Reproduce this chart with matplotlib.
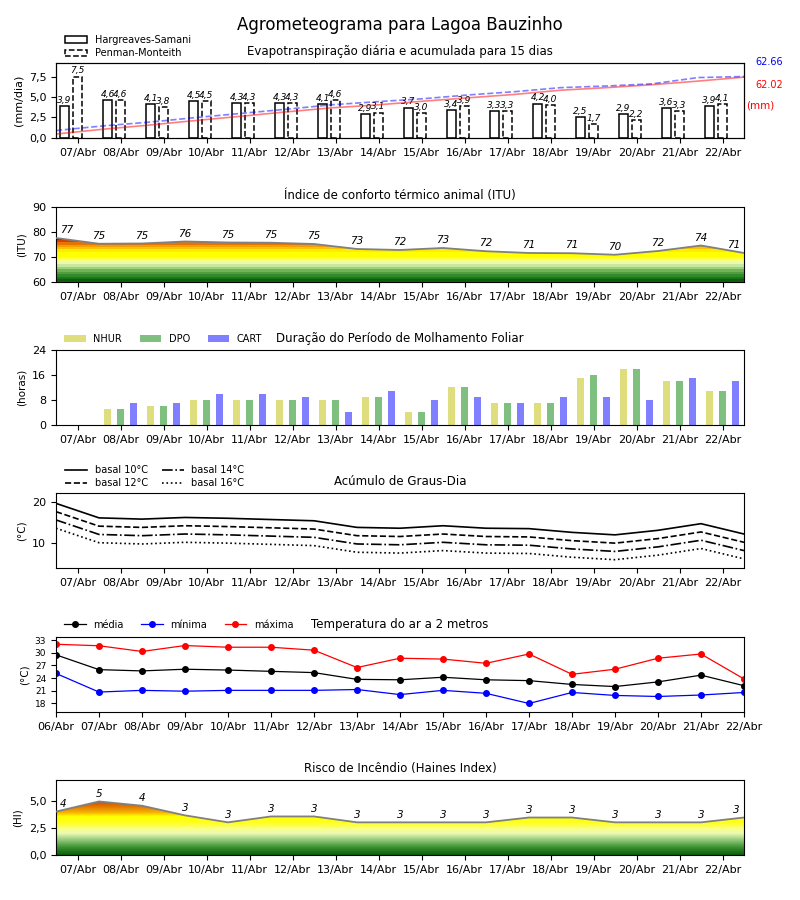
import numpy as np
import matplotlib
matplotlib.use('Agg')
import matplotlib.pyplot as plt
from matplotlib.colors import LinearSegmentedColormap
from matplotlib.patches import Polygon

# ---------------- data ----------------
days = ['07/Abr', '08/Abr', '09/Abr', '10/Abr', '11/Abr', '12/Abr', '13/Abr', '14/Abr',
        '15/Abr', '16/Abr', '17/Abr', '18/Abr', '19/Abr', '20/Abr', '21/Abr', '22/Abr']
temp_days = ['06/Abr'] + days

eto_hs = [3.9, 4.6, 4.1, 4.5, 4.3, 4.3, 4.1, 2.9, 3.7, 3.4, 3.3, 4.2, 2.5, 2.9, 3.6, 3.9]
eto_pm = [7.5, 4.6, 3.8, 4.5, 4.3, 4.3, 4.6, 3.1, 3.0, 3.9, 3.3, 4.0, 1.7, 2.2, 3.3, 4.1]
cum_hs = [4.0, 8.8, 13.0, 17.6, 22.0, 26.5, 30.7, 33.7, 37.5, 41.0, 44.4, 48.7, 51.3, 54.3, 58.0, 62.02]
cum_pm = [7.6, 12.2, 16.0, 20.6, 24.9, 29.2, 33.8, 37.0, 40.0, 43.9, 47.2, 51.3, 53.0, 55.2, 61.6, 62.66]

itu = [77.6, 75.3, 75.4, 76.2, 75.8, 75.7, 75.2, 73.2, 72.8, 73.6, 72.3, 71.6, 71.5, 70.9, 72.4, 74.6, 71.6]

nhur = [0, 5, 6, 8, 8, 8, 8, 9, 4, 12, 7, 7, 15, 18, 14, 11]
dpo = [0, 5, 6, 8, 8, 8, 8, 9, 4, 12, 7, 7, 16, 18, 14, 11]
cart = [0, 7, 7, 10, 10, 9, 4, 11, 8, 9, 7, 9, 9, 8, 15, 14]

gdd10 = [19.6, 16.1, 15.8, 16.2, 16.0, 15.7, 15.4, 13.8, 13.6, 14.2, 13.6, 13.5, 12.6, 12.0, 13.1, 14.7, 12.2]
gdd12 = [17.6, 14.1, 13.8, 14.2, 14.0, 13.7, 13.4, 11.8, 11.6, 12.2, 11.6, 11.5, 10.6, 10.0, 11.1, 12.7, 10.2]
gdd14 = [15.6, 12.1, 11.8, 12.2, 12.0, 11.7, 11.4, 9.8, 9.6, 10.2, 9.6, 9.5, 8.6, 8.0, 9.1, 10.7, 8.2]
gdd16 = [13.6, 10.1, 9.8, 10.2, 10.0, 9.7, 9.4, 7.8, 7.6, 8.2, 7.6, 7.5, 6.6, 6.0, 7.1, 8.7, 6.2]

t_mean = [29.5, 26.0, 25.7, 26.1, 25.9, 25.6, 25.3, 23.7, 23.6, 24.2, 23.6, 23.4, 22.5, 22.0, 23.1, 24.7, 22.2]
t_min = [25.1, 20.7, 21.1, 20.9, 21.1, 21.1, 21.1, 21.3, 20.1, 21.1, 20.4, 18.0, 20.6, 19.9, 19.65, 20.0, 20.6]
t_max = [32.0, 31.65, 30.3, 31.7, 31.3, 31.3, 30.6, 26.5, 28.7, 28.5, 27.5, 29.7, 24.9, 26.1, 28.7, 29.7, 23.8]

haines = [4.05, 5.0, 4.6, 3.7, 3.05, 3.6, 3.6, 3.05, 3.05, 3.05, 3.05, 3.5, 3.5, 3.05, 3.05, 3.05, 3.5]

# ---------------- style ----------------
TITLE_FS = 8.5
TICK_FS = 8
LEG_FS = 7
LAB_FS = 7.5

fig = plt.figure(figsize=(8, 9), dpi=100)
fig.suptitle('Agrometeograma para Lagoa Bauzinho', fontsize=12, y=0.982)

L, W = 0.07, 0.86
H = 0.0833
bottoms = [0.8467, 0.6867, 0.5278, 0.3689, 0.2085, 0.05]
axes = [fig.add_axes([L, b, W, h]) for b, h in zip(bottoms, [H, H, H, H, 0.0841, H])]

n = len(days)
xd = np.arange(n)
xb = np.arange(n + 1) - 0.5


def style_days(ax):
    ax.set_xlim(-0.5, n - 0.5)
    ax.set_xticks(xd)
    ax.set_xticklabels(days, fontsize=TICK_FS)
    ax.tick_params(axis='y', labelsize=TICK_FS)


def gradient_fill(ax, x, y, ymin, ymax, anchors, N=256):
    pos = [(v - ymin) / (ymax - ymin) for v, _ in anchors]
    cols = [c for _, c in anchors]
    cmap = LinearSegmentedColormap.from_list('g', list(zip(pos, cols)), N=N)
    grad = np.linspace(0, 1, 512).reshape(-1, 1)
    im = ax.imshow(grad, extent=[x[0], x[-1], ymin, ymax], origin='lower',
                   aspect='auto', cmap=cmap, zorder=1, interpolation='nearest')
    verts = [(x[0], ymin)] + list(zip(x, y)) + [(x[-1], ymin)]
    poly = Polygon(verts, closed=True, facecolor='none', edgecolor='none')
    ax.add_patch(poly)
    im.set_clip_path(poly)
    ax.plot(x, y, color='#808080', lw=1.3, zorder=3)


def point_labels(ax, x, y, fmt):
    for i, (xi, yi) in enumerate(zip(x, y)):
        if i == 0:
            ha, dx = 'left', 3
        elif i == len(x) - 1:
            ha, dx = 'right', -3
        else:
            ha, dx = 'center', 0
        ax.annotate(fmt(yi), (xi, yi), xytext=(dx, 2), textcoords='offset points',
                    ha=ha, va='bottom', fontsize=7.5, style='italic', zorder=4)


# ---------------- panel 1: ETo ----------------
ax = axes[0]
bw = 0.22
ax.bar(xd - 0.3, eto_hs, bw, facecolor='white', edgecolor='black', lw=1.1,
       label='Hargreaves-Samani', zorder=2)
ax.bar(xd, eto_pm, bw, facecolor='white', edgecolor='black', lw=1.1, linestyle='--',
       label='Penman-Monteith', zorder=2)
for xi, v in zip(xd - 0.3, eto_hs):
    ax.text(xi, v + 0.15, f'{v:.1f}'.replace('.', ','), ha='center', va='bottom',
            fontsize=6.5, style='italic')
for xi, v in zip(xd, eto_pm):
    ax.text(xi, v + 0.15, f'{v:.1f}'.replace('.', ','), ha='center', va='bottom',
            fontsize=6.5, style='italic')
style_days(ax)
ax.set_ylim(0, max(eto_pm) * 1.22)
ax.set_yticks([0, 2.5, 5.0, 7.5])
ax.set_yticklabels(['0,0', '2,5', '5,0', '7,5'])
ax.set_ylabel('(mm/dia)', fontsize=LAB_FS + 0.5)
ax.set_title('Evapotranspiração diária e acumulada para 15 dias', fontsize=TITLE_FS)
ax.legend(loc='lower left', bbox_to_anchor=(0.008, 1.01), frameon=False, fontsize=LEG_FS,
          handlelength=2.2, borderaxespad=0, labelspacing=0.35)
axb = ax.twinx()
xc = np.linspace(-0.5, n - 0.5, len(cum_hs))
axb.plot(xc, cum_hs, color='red', alpha=0.5, lw=1.2)
axb.plot(xc, cum_pm, color='blue', alpha=0.5, lw=1.2, linestyle='--')
axb.set_ylim(0, max(cum_pm) * 1.22)
axb.set_yticks([])
axb.set_xlim(-0.5, n - 0.5)
axb.text(1.017, 1.009, f'{cum_pm[-1]:.2f}', transform=ax.transAxes, color='blue',
         fontsize=7, ha='left', va='center')
axb.text(1.017, 0.703, f'{cum_hs[-1]:.2f}', transform=ax.transAxes, color='red',
         fontsize=7, ha='left', va='center')
axb.text(1.003, 0.436, '(mm)', transform=ax.transAxes, color='red',
         fontsize=7.5, ha='left', va='center')

# ---------------- panel 2: ITU ----------------
ax = axes[1]
itu_anchors = [(60, '#0b5e0b'), (62, '#2f8a2a'), (64, '#6cb04e'), (65.5, '#a9d98f'),
               (67, '#e9f9b2'), (68.5, '#f9ff7d'), (70, '#ffff00'), (72, '#ffff00'),
               (73, '#ffd200'), (74.5, '#f1a000'), (76, '#e16200'), (77.5, '#d00000'),
               (90, '#c00000')]
gradient_fill(ax, xb, itu, 60, 90, itu_anchors, N=30)
point_labels(ax, xb, itu, lambda v: f'{int(v)}')
style_days(ax)
ax.set_ylim(60, 90)
ax.set_yticks([60, 70, 80, 90])
ax.set_ylabel('(ITU)', fontsize=LAB_FS)
ax.set_title('Índice de conforto térmico animal (ITU)', fontsize=TITLE_FS)

# ---------------- panel 3: leaf wetness ----------------
ax = axes[2]
ww = 0.16
ax.bar(xd - 0.3, nhur, ww, color='y', alpha=0.5, label='NHUR')
ax.bar(xd, dpo, ww, color='green', alpha=0.5, label='DPO')
ax.bar(xd + 0.3, cart, ww, color='blue', alpha=0.5, label='CART')
style_days(ax)
ax.set_ylim(0, 24)
ax.set_yticks([0, 8, 16, 24])
ax.set_ylabel('(horas)', fontsize=LAB_FS)
ax.set_title('Duração do Período de Molhamento Foliar', fontsize=TITLE_FS)
ax.legend(loc='lower left', bbox_to_anchor=(0.005, 1.015), frameon=False, fontsize=LEG_FS,
          ncol=3, handlelength=2.2, borderaxespad=0.1, columnspacing=1.8)

# ---------------- panel 4: degree days ----------------
ax = axes[3]
ax.plot(xb, gdd10, color='black', lw=1.2, linestyle='-', label='basal 10°C')
ax.plot(xb, gdd12, color='black', lw=1.2, linestyle='--', label='basal 12°C')
ax.plot(xb, gdd14, color='black', lw=1.2, linestyle='-.', label='basal 14°C')
ax.plot(xb, gdd16, color='black', lw=1.2, linestyle=':', label='basal 16°C')
style_days(ax)
ax.set_ylim(4.0, 22.1)
ax.set_yticks([10, 20])
ax.set_ylabel('(°C)', fontsize=LAB_FS)
ax.set_title('Acúmulo de Graus-Dia', fontsize=TITLE_FS)
ax.legend(loc='lower left', bbox_to_anchor=(0.008, 1.01), frameon=False, fontsize=LEG_FS,
          ncol=2, handlelength=2.2, borderaxespad=0, labelspacing=0.35, columnspacing=1.5)

# ---------------- panel 5: temperature ----------------
ax = axes[4]
xt = np.arange(len(temp_days))
ax.plot(xt, t_mean, color='black', marker='o', ms=4, lw=0.9, label='média')
ax.plot(xt, t_min, color='blue', marker='o', ms=4, lw=0.9, label='mínima')
ax.plot(xt, t_max, color='red', marker='o', ms=4, lw=0.9, label='máxima')
ax.set_xlim(0, len(temp_days) - 1)
ax.set_xticks(xt)
ax.set_xticklabels(temp_days, fontsize=TICK_FS)
ax.set_ylim(15.9, 33.8)
ax.set_yticks([18, 21, 24, 27, 30, 33])
ax.tick_params(axis='y', labelsize=6.5)
ax.set_ylabel('(°C)', fontsize=LAB_FS)
ax.set_title('Temperatura do ar a 2 metros', fontsize=TITLE_FS)
ax.legend(loc='lower left', bbox_to_anchor=(0.005, 1.03), frameon=False, fontsize=LEG_FS,
          ncol=3, handlelength=2.2, borderaxespad=0.1, columnspacing=1.8)

# ---------------- panel 6: Haines ----------------
ax = axes[5]
hi_anchors = [(0, '#0b5e0b'), (0.7, '#3a8f30'), (1.4, '#92c97a'), (2.0, '#e9f9b2'),
              (2.4, '#f9ff90'), (3.0, '#ffff20'), (3.6, '#ffff00'), (4.0, '#f6b000'),
              (4.6, '#e07000'), (5.0, '#d05000'), (7.0, '#c03000')]
gradient_fill(ax, xb, haines, 0, 7.0, hi_anchors)
point_labels(ax, xb, haines, lambda v: f'{int(v)}')
style_days(ax)
ax.set_ylim(0, 7.0)
ax.set_yticks([0, 2.5, 5.0])
ax.set_yticklabels(['0,0', '2,5', '5,0'])
ax.set_ylabel('(HI)', fontsize=LAB_FS)
ax.set_title('Risco de Incêndio (Haines Index)', fontsize=TITLE_FS)

fig.savefig('out.png', dpi=100)
